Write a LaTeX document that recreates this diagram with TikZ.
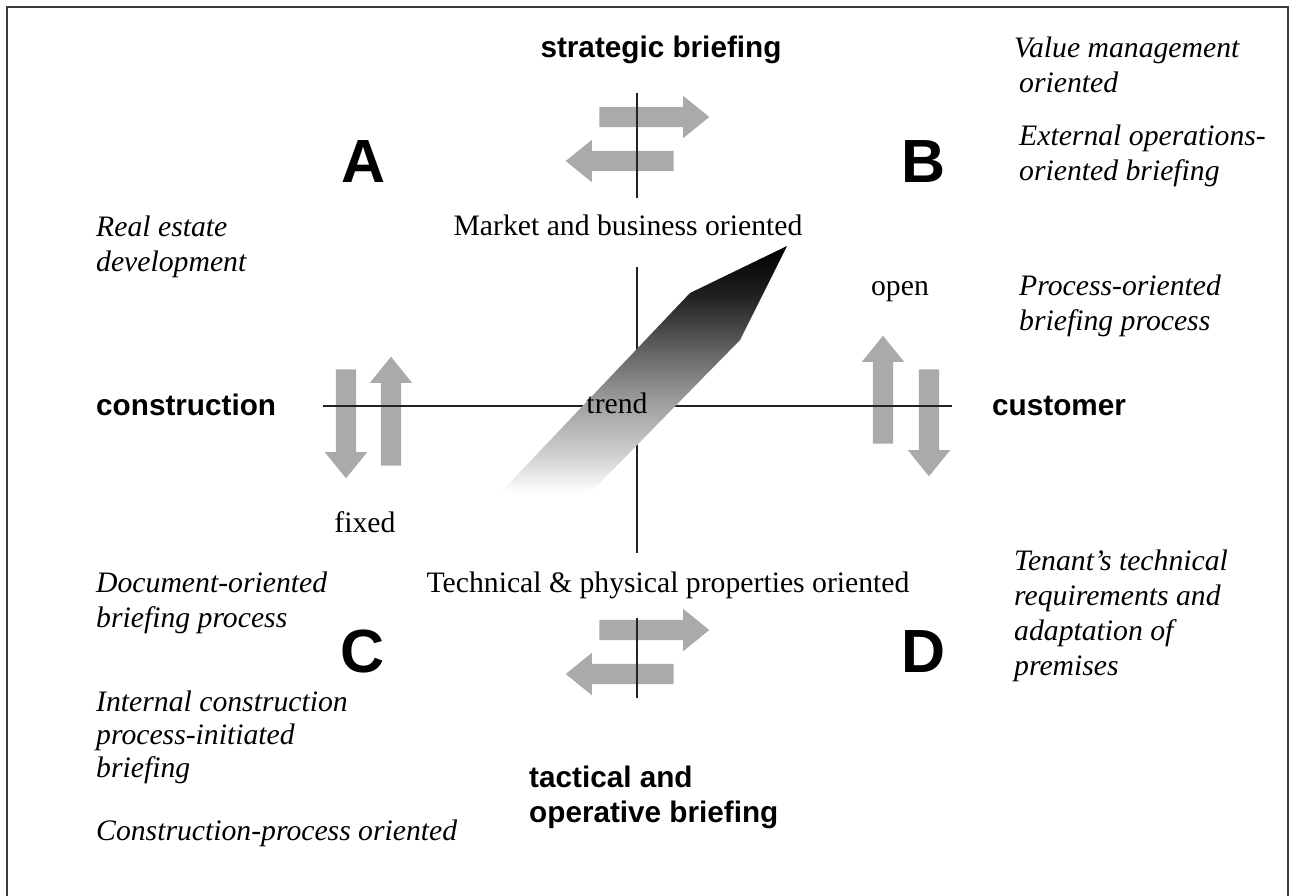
\documentclass[tikz,border=0pt]{standalone}
\usepackage{fontspec}
\setmainfont{Liberation Serif}
\setsansfont{Liberation Sans}
\usetikzlibrary{shapes.arrows}

\definecolor{arrowgray}{RGB}{170,170,170}
\definecolor{axisgray}{RGB}{35,35,35}
\definecolor{framegray}{RGB}{60,60,60}
\definecolor{tr0}{RGB}{255,255,255}
\definecolor{tr1}{RGB}{206,206,206}
\definecolor{tr2}{RGB}{160,160,160}
\definecolor{tr3}{RGB}{98,98,98}
\definecolor{tr4}{RGB}{32,32,32}
\definecolor{tr5}{RGB}{0,0,0}
\pgfdeclareverticalshading{trendshade}{100bp}{color(0bp)=(tr0); color(25bp)=(tr0); color(33bp)=(tr1); color(43bp)=(tr2); color(54bp)=(tr3); color(65bp)=(tr4); color(75bp)=(tr5); color(100bp)=(tr5)}

\begin{document}
\begin{tikzpicture}[x=1pt,y=-1pt,
  lbl/.style={inner sep=0pt, font=\fontsize{29.7}{35}\selectfont},
  note/.style={inner sep=0pt, align=left, font=\fontsize{29.7}{35}\selectfont\itshape},
  pole/.style={inner sep=0pt, align=left, font=\fontsize{29.7}{35}\selectfont\sffamily\bfseries},
  quad/.style={inner sep=0pt, font=\fontsize{61}{61}\selectfont\sffamily\bfseries},
  flow/.style={single arrow, fill=arrowgray, draw=none, inner sep=10pt,
    single arrow head extend=11pt, single arrow tip angle=78,
    single arrow head indent=0pt, minimum height=#1, anchor=center},
  axis/.style={draw=axisgray, line width=1.8pt}]

\useasboundingbox (0,0) rectangle (1293,895);

% frame, open at the bottom edge of the page
\draw[framegray, line width=1.6pt] (7,896) -- (7,7) -- (1288,7) -- (1288,896);

% grey double arrows on the four half-axes
\node[flow=110] (sr) at (648,117) {};
\node[flow=108, rotate=180] (sl) at (626,161) {};
\node[flow=110] (tr) at (648,630) {};
\node[flow=108, rotate=180] (tl) at (626,674) {};
\node[flow=109, rotate=-90] (cd) at (346,417.5) {};
\node[flow=109, rotate=90] (cu) at (391,417.5) {};
\node[flow=108, rotate=90] (ou) at (883,396) {};
\node[flow=107, rotate=-90] (od) at (929,416.5) {};

% axes
\coordinate (vtop) at (637,93);
\coordinate (vmkA) at (637,198);
\coordinate (vmkB) at (637,267);
\coordinate (vtcA) at (637,553);
\coordinate (vtcB) at (637,618);
\coordinate (vbot) at (637,698);
\coordinate (hleft) at (323,406);
\coordinate (hright) at (952,406);
\draw[axis] (vtop) -- (vmkA);
\draw[axis] (vmkB) -- (vtcA);
\draw[axis] (vtcB) -- (vbot);
\draw[axis] (hleft) -- (hright);

% trend arrow, dark at the tip and fading out towards its tail
\coordinate (tip) at (787,246);
\coordinate (shl) at (690,293);
\coordinate (shr) at (740,340);
\coordinate (endl) at (500,493);
\coordinate (endr) at (590,493);
\shade[shading=trendshade] (tip) -- (shl) -- (endl) -- (endr) -- (shr) -- cycle;
\node[lbl, anchor=base] (trend) at (617,413) {trend};

% pole labels (multi-line nodes are placed by the baseline of their last line)
\node[pole, anchor=base] (strat) at (661,57) {strategic briefing};
\node[pole, anchor=base west] (tact) at (529,822) {tactical and\\operative briefing};
\node[pole, anchor=base west] (constr) at (96,415) {construction};
\node[pole, anchor=base west] (cust) at (992,415) {customer};

% quadrant letters
\node[quad, anchor=base] (qa) at (364,182) {A};
\node[quad, anchor=base] (qb) at (924,182) {B};
\node[quad, anchor=base] (qc) at (363,672) {C};
\node[quad, anchor=base] (qd) at (924,672) {D};

% axis texts
\node[lbl, anchor=base] (market) at (628,235) {Market and business oriented};
\node[lbl, anchor=base] (techn) at (668,592) {Technical \& physical properties oriented};
\node[lbl, anchor=base] (open) at (900,295) {open};
\node[lbl, anchor=base] (fixed) at (365,532) {fixed};

% quadrant notes
\node[note, anchor=base west] (nvm) at (1014,92) {Value management\\\hspace*{5pt}oriented};
\node[note, anchor=base west] (nex) at (1019,180) {External operations-\\oriented briefing};
\node[note, anchor=base west] (npr) at (1019,330) {Process-oriented\\briefing process};
\node[note, anchor=base west] (nre) at (96,271) {Real estate\\development};
\node[note, anchor=base west] (ndo) at (96,627) {Document-oriented\\briefing process};
\node[note, anchor=base west, font=\fontsize{29.7}{33}\selectfont\itshape] (nin) at (96,777) {Internal construction\\process-initiated\\briefing};
\node[note, anchor=base west] (ncp) at (96,840) {Construction-process oriented};
\node[note, anchor=base west] (nte) at (1014,675) {Tenant's technical\\requirements and\\adaptation of\\premises};
\end{tikzpicture}
\end{document}
